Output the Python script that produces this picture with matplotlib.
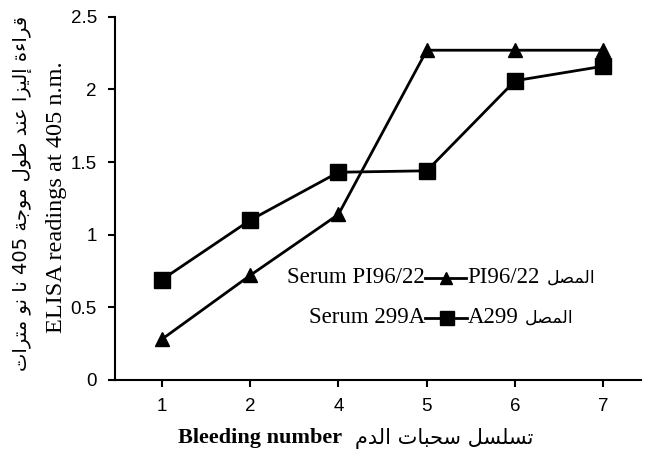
import matplotlib.pyplot as plt
import numpy as np

bleeds = ['1', '2', '4', '5', '6', '7']
pi96 = [0.28, 0.72, 1.14, 2.27, 2.27, 2.27]
a299 = [0.69, 1.10, 1.43, 1.44, 2.06, 2.16]
yticks = [0, 0.5, 1, 1.5, 2, 2.5]
ytick_labels = ['0', '0.5', '1', '1.5', '2', '2.5']

# minimal arabic shaping (matplotlib has no shaping / bidi)
forms = {
    'ا': (0xFE8D, 0xFE8E), 'إ': (0xFE87, 0xFE88), 'ء': (0xFE80,),
    'ب': (0xFE8F, 0xFE90, 0xFE91, 0xFE92), 'ة': (0xFE93, 0xFE94),
    'ت': (0xFE95, 0xFE96, 0xFE97, 0xFE98), 'ج': (0xFE9D, 0xFE9E, 0xFE9F, 0xFEA0),
    'ح': (0xFEA1, 0xFEA2, 0xFEA3, 0xFEA4), 'د': (0xFEA9, 0xFEAA),
    'ر': (0xFEAD, 0xFEAE), 'ز': (0xFEAF, 0xFEB0),
    'س': (0xFEB1, 0xFEB2, 0xFEB3, 0xFEB4), 'ص': (0xFEB9, 0xFEBA, 0xFEBB, 0xFEBC),
    'ط': (0xFEC1, 0xFEC2, 0xFEC3, 0xFEC4), 'ع': (0xFEC9, 0xFECA, 0xFECB, 0xFECC),
    'ق': (0xFED5, 0xFED6, 0xFED7, 0xFED8), 'ل': (0xFEDD, 0xFEDE, 0xFEDF, 0xFEE0),
    'م': (0xFEE1, 0xFEE2, 0xFEE3, 0xFEE4), 'ن': (0xFEE5, 0xFEE6, 0xFEE7, 0xFEE8),
    'و': (0xFEED, 0xFEEE), 'ي': (0xFEF1, 0xFEF2, 0xFEF3, 0xFEF4),
}


def shape_word(w):
    out = []
    for i, c in enumerate(w):
        if c not in forms:
            out.append(c)
            continue
        f = forms[c]
        prev = w[i-1] if i > 0 else None
        nxt = w[i+1] if i < len(w)-1 else None
        jp = prev in forms and len(forms[prev]) == 4
        jn = len(f) == 4 and nxt in forms
        if len(f) == 1:
            out.append(chr(f[0]))
        elif jp and jn:
            out.append(chr(f[3]))
        elif jn:
            out.append(chr(f[2]))
        elif jp:
            out.append(chr(f[1]))
        else:
            out.append(chr(f[0]))
    return ''.join(out[::-1])


def ar(s):
    toks = s.split(' ')[::-1]
    return ' '.join(shape_word(t) if any(c in forms for c in t) else t for t in toks)


serif = ['Liberation Serif', 'DejaVu Sans']
arfont = ['DejaVu Sans']

fig = plt.figure(figsize=(6.57, 4.54), dpi=100)
ax = fig.add_axes([0.175, 0.163, 0.80, 0.80])

x = np.arange(len(bleeds))
ax.plot(x, pi96, color='black', lw=2, marker='^', ms=10)
ax.plot(x, a299, color='black', lw=2, marker='s', ms=12)

ax.set_xlim(-0.53, 5.42)
ax.set_ylim(0, 2.5)
ax.set_xticks(x)
ax.set_xticklabels(bleeds, family='Liberation Sans', fontsize=13.5)
ax.set_yticks(yticks)
ax.set_yticklabels(ytick_labels, family='Liberation Sans', fontsize=13.5)
ax.spines['top'].set_visible(False)
ax.spines['right'].set_visible(False)
ax.spines['left'].set_linewidth(1.5)
ax.spines['bottom'].set_linewidth(1.5)
ax.tick_params(length=5, width=1.5, pad=8)

# in-plot legend
fs = 16.5
afs = 12.5
tr = ax.transAxes
y1, y2 = 0.281, 0.171
ax.text(0.590, y1, 'Serum PI96/22', transform=tr, ha='right', va='center',
        family=serif, fontsize=fs)
ax.plot([0.590, 0.667], [y1, y1], transform=tr, color='black', lw=2)
ax.plot([0.629], [y1], transform=tr, color='black', marker='^', ms=9)
ax.text(0.670, y1, 'PI96/22', transform=tr, ha='left', va='center',
        family=serif, fontsize=fs)
ax.text(0.914, y1, ar('المصل'), transform=tr, ha='right', va='center',
        family=arfont, fontsize=afs)

ax.text(0.590, y2, 'Serum 299A', transform=tr, ha='right', va='center',
        family=serif, fontsize=fs)
ax.plot([0.590, 0.670], [y2, y2], transform=tr, color='black', lw=2)
ax.plot([0.632], [y2], transform=tr, color='black', marker='s', ms=10)
ax.text(0.672, y2, 'A299', transform=tr, ha='left', va='center',
        family=serif, fontsize=fs)
ax.text(0.872, y2, ar('المصل'), transform=tr, ha='right', va='center',
        family=arfont, fontsize=afs)

# axis labels
fig.text(0.086, 0.566, 'ELISA readings at 405 n.m.', rotation=90, ha='center', va='center',
         family=serif, fontsize=17.5)
fig.text(0.034, 0.575, ar('قراءة إليزا عند طول موجة 405 نا نو مترات'), rotation=90,
         ha='center', va='center', family=arfont, fontsize=14)
fig.text(0.521, 0.035, 'Bleeding number', ha='right', va='center', family=serif,
         fontsize=16, fontweight='bold')
fig.text(0.54, 0.035, ar('تسلسل سحبات الدم'), ha='left', va='center', family=arfont,
         fontsize=15)

fig.savefig('out.png', dpi=100)
